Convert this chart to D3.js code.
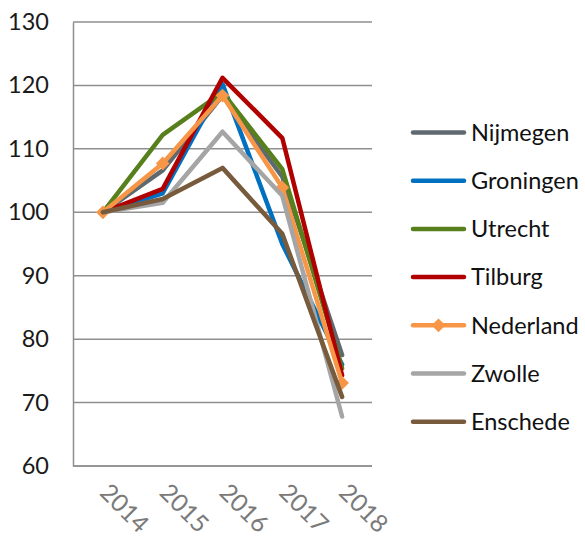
<!DOCTYPE html>
<html>
<head>
<meta charset="utf-8">
<script src="https://cdn.jsdelivr.net/npm/d3@7"></script>
<style>
  html, body { margin: 0; padding: 0; background: #ffffff; }
  svg { display: block; }
  text { font-family: Lato, "Open Sans", sans-serif; }
</style>
</head>
<body>
<svg id="chart" width="585" height="543"></svg>
<script>
// Index (2014 = 100) per city
const years = ["2014", "2015", "2016", "2017", "2018"];
const yTicks = [60, 70, 80, 90, 100, 110, 120, 130];

const nijmegen  = [100, 106.6, 118.4, 105.6, 77.5];
const groningen = [100, 103.0, 120.2, 95.0, 76.0];
const utrecht   = [100, 112.2, 118.9, 106.8, 75.4];
const tilburg   = [100, 103.7, 121.2, 111.7, 74.3];
const nederland = [100, 107.7, 118.4, 103.9, 73.1];
const zwolle    = [100, 101.5, 112.7, 102.6, 67.8];
const enschede  = [100, 102.1, 107.0, 96.6, 70.9];

const seriesNames  = ["Nijmegen", "Groningen", "Utrecht", "Tilburg", "Nederland", "Zwolle", "Enschede"];
const seriesValues = [nijmegen, groningen, utrecht, tilburg, nederland, zwolle, enschede];
const seriesColors = ["#5f6a70", "#0070c0", "#57801c", "#b00000", "#f79646", "#a5a5a5", "#785a3c"];
const seriesMarker = [false, false, false, false, true, false, false];

const svg = d3.select("#chart");
const plot = { left: 73, right: 372, top: 22, bottom: 466 };

const x = d3.scalePoint().domain(years).range([plot.left, plot.right]).padding(0.5);
const y = d3.scaleLinear().domain([60, 130]).range([plot.bottom, plot.top]);

// Horizontal gridlines
svg.append("g")
  .selectAll("line")
  .data(yTicks)
  .join("line")
  .attr("x1", plot.left).attr("x2", plot.right)
  .attr("y1", d => y(d)).attr("y2", d => y(d))
  .attr("stroke", "#8f8f8f").attr("stroke-width", 1.5);

// Axes
const yAxis = svg.append("g")
  .attr("transform", `translate(${plot.left},0)`)
  .call(d3.axisLeft(y).tickValues(yTicks).tickSize(0).tickPadding(24));
yAxis.select(".domain").attr("stroke", "#8f8f8f").attr("stroke-width", 1.5);
yAxis.selectAll("text")
  .attr("font-size", 23.5).attr("fill", "#1a1a1a")
  .attr("font-family", "Lato, sans-serif");

const xAxis = svg.append("g")
  .attr("transform", `translate(0,${plot.bottom})`)
  .call(d3.axisBottom(x).tickSize(0));
xAxis.select(".domain").remove();
svg.append("line")
  .attr("x1", plot.left).attr("x2", plot.right)
  .attr("y1", plot.bottom).attr("y2", plot.bottom)
  .attr("stroke", "#8f8f8f").attr("stroke-width", 1.5);
xAxis.selectAll("text")
  .attr("font-size", 24.5).attr("fill", "#7a7a7a")
  .attr("font-family", "Lato, sans-serif")
  .attr("text-anchor", "start")
  .attr("dy", null).attr("y", 0)
  .attr("transform", "translate(-5,28) rotate(45)");

// Series lines
const line = d3.line()
  .x((d, i) => x(years[i]))
  .y(d => y(d));

const diamond = d3.symbol().type(d3.symbolDiamond2).size(120);

seriesValues.forEach((vals, k) => {
  const g = svg.append("g");
  g.append("path")
    .datum(vals)
    .attr("d", line)
    .attr("fill", "none")
    .attr("stroke", seriesColors[k])
    .attr("stroke-width", 4.5)
    .attr("stroke-linejoin", "round")
    .attr("stroke-linecap", "round");
  if (seriesMarker[k]) {
    g.selectAll("path.marker")
      .data(vals)
      .join("path")
      .attr("class", "marker")
      .attr("d", diamond)
      .attr("transform", (d, i) => `translate(${x(years[i])},${y(d)})`)
      .attr("fill", seriesColors[k]);
  }
});

// Legend
const legend = svg.append("g");
seriesNames.forEach((name, k) => {
  const ly = 132.5 + k * 48.2;
  legend.append("line")
    .attr("x1", 413).attr("x2", 464)
    .attr("y1", ly).attr("y2", ly)
    .attr("stroke", seriesColors[k])
    .attr("stroke-width", 4.5)
    .attr("stroke-linecap", "round");
  if (seriesMarker[k]) {
    legend.append("path")
      .attr("d", diamond)
      .attr("transform", `translate(438.5,${ly})`)
      .attr("fill", seriesColors[k]);
  }
  legend.append("text")
    .attr("x", 471).attr("y", ly)
    .attr("dy", "0.35em")
    .attr("font-size", 23.5)
    .attr("fill", "#111111")
    .text(name);
});
</script>
</body>
</html>
